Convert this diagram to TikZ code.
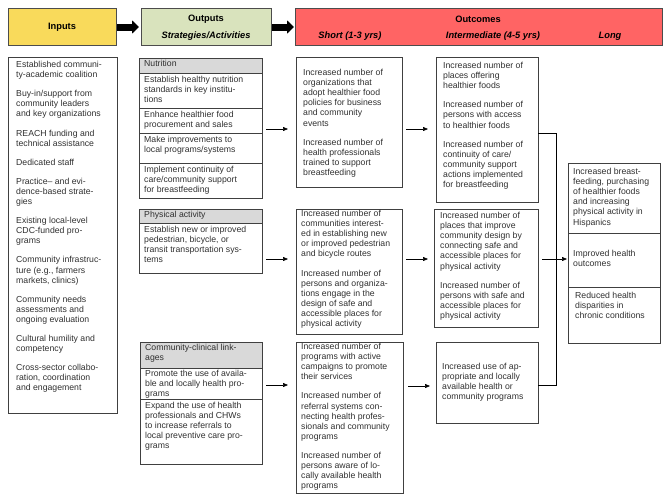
\documentclass[tikz,border=0pt]{standalone}
\usepackage{fontspec}
\setmainfont{Liberation Sans}
\usetikzlibrary{arrows.meta}
\definecolor{inyel}{HTML}{F9DA5B}
\definecolor{outgr}{HTML}{D9E3BD}
\definecolor{outred}{HTML}{FF6464}
\definecolor{hgray}{HTML}{D9D9D9}
\definecolor{tx}{HTML}{303030}
\begin{document}
\begin{tikzpicture}[x=1pt,y=-1pt,
  bx/.style={draw=black!75,line width=0.6pt},
  txt/.style={anchor=north west,inner sep=0pt,align=left,text=tx,font=\fontsize{8.7}{10.1}\selectfont},
  hd/.style={draw=black!70,line width=0.6pt},
  hf/.style={font=\fontsize{9.3}{11}\selectfont\bfseries},
  blk/.style={-{Triangle[length=7pt,width=13pt]},line width=7pt},
  arr/.style={-{Triangle[length=5pt,width=4pt]},line width=0.6pt},
  ln/.style={line width=0.6pt}]
\useasboundingbox (0,0) rectangle (669,498);
% header
\draw[hd,fill=inyel] (8,8) rectangle (116,45);
\node[hf] (hin) at (62,27) {Inputs};
\draw[hd,fill=outgr] (141,8) rectangle (271,45);
\node[hf] (hout) at (206,19) {Outputs};
\node[hf,font=\fontsize{9.3}{11}\selectfont\bfseries\itshape] (hstr) at (206,36) {Strategies/Activities};
\draw[hd,fill=outred] (295,8) rectangle (662,45);
\node[hf] (hoc) at (478,19) {Outcomes};
\node[hf,font=\fontsize{9.3}{11}\selectfont\bfseries\itshape] (hs) at (350,36) {Short (1-3 yrs)};
\node[hf,font=\fontsize{9.3}{11}\selectfont\bfseries\itshape] (hi) at (493,36) {Intermediate (4-5 yrs)};
\node[hf,font=\fontsize{9.3}{11}\selectfont\bfseries\itshape] (hl) at (610,36) {Long};
\coordinate (a1) at (117,27); \coordinate (a2) at (139,27);
\coordinate (a3) at (272,27); \coordinate (a4) at (294,27);
\draw[blk] (a1) -- (a2);
\draw[blk] (a3) -- (a4);
% inputs
\draw[bx] (8,57) rectangle (117,413);
\node[txt] (inp) at (16,61) {Established communi-\\ty-academic coalition\\[9pt]
Buy-in/support from\\community leaders\\and key organizations\\[9pt]
REACH funding and\\technical assistance\\[9pt]
Dedicated staff\\[9pt]
Practice-- and evi-\\dence-based strate-\\gies\\[9pt]
Existing local-level\\CDC-funded pro-\\grams\\[9pt]
Community infrastruc-\\ture (e.g., farmers\\markets, clinics)\\[9pt]
Community needs\\assessments and\\ongoing evaluation\\[9pt]
Cultural humility and\\competency\\[9pt]
Cross-sector collabo-\\ration, coordination\\and engagement};
% nutrition
\draw[bx,fill=hgray] (139,58) rectangle (262,73);
\draw[bx] (139,73) rectangle (262,198);
\draw[bx] (139,108) -- (262,108);
\draw[bx] (139,133) -- (262,133);
\draw[bx] (139,163) -- (262,163);
\node[txt] (n0) at (144,60) {Nutrition};
\node[txt] (n1) at (144,76) {Establish healthy nutrition\\standards in key institu-\\tions};
\node[txt] (n2) at (144,111) {Enhance healthier food\\procurement and sales};
\node[txt] (n3) at (144,136) {Make improvements to\\local programs/systems};
\node[txt] (n4) at (144,166) {Implement continuity of\\care/community support\\for breastfeeding};
% physical activity
\draw[bx,fill=hgray] (139,209) rectangle (262,223);
\draw[bx] (139,223) rectangle (262,273);
\node[txt] (p0) at (144,211) {Physical activity};
\node[txt] (p1) at (144,226) {Establish new or improved\\pedestrian, bicycle, or\\transit transportation sys-\\tems};
% community clinical
\draw[bx,fill=hgray] (140,342) rectangle (262,368);
\draw[bx] (140,368) rectangle (262,464);
\draw[bx] (140,399) -- (262,399);
\node[txt] (c0) at (145,344) {Community-clinical link-\\ages};
\node[txt] (c1) at (145,370) {Promote the use of availa-\\ble and locally health pro-\\grams};
\node[txt] (c2) at (145,402) {Expand the use of health\\professionals and CHWs\\to increase referrals to\\local preventive care pro-\\grams};
% short
\draw[bx] (296,57) rectangle (402,187);
\node[txt] (s1) at (303,69) {Increased number of\\organizations that\\adopt healthier food\\policies for business\\and community\\events\\[9pt]
Increased number of\\health professionals\\trained to support\\breastfeeding};
\draw[bx] (296,209) rectangle (402,334);
\node[txt] (s2) at (301,210) {Increased number of\\communities interest-\\ed in establishing new\\or improved pedestrian\\and bicycle routes\\[9pt]
Increased number of\\persons and organiza-\\tions engage in the\\design of safe and\\accessible places for\\physical activity};
\draw[bx] (296,342) rectangle (403,493);
\node[txt] (s3) at (301,343) {Increased number of\\programs with active\\campaigns to promote\\their services\\[9pt]
Increased number of\\referral systems con-\\necting health profes-\\sionals and community\\programs\\[9pt]
Increased number of\\persons aware of lo-\\cally available health\\programs};
% intermediate
\draw[bx] (436,57) rectangle (538,202);
\node[txt] (i1) at (443,62) {Increased number of\\places offering\\healthier foods\\[9pt]
Increased number of\\persons with access\\to healthier foods\\[9pt]
Increased number of\\continuity of care/\\community support\\actions implemented\\for breastfeeding};
\draw[bx] (434,209) rectangle (538,327);
\node[txt] (i2) at (440,212) {Increased number of\\places that improve\\community design by\\connecting safe and\\accessible places for\\physical activity\\[9pt]
Increased number of\\persons with safe and\\accessible places for\\physical activity};
\draw[bx] (436,342) rectangle (538,423);
\node[txt] (i3) at (442,363) {Increased use of ap-\\propriate and locally\\available health or\\community programs};
% long
\draw[bx] (568,163) rectangle (660,343);
\draw[bx] (568,233) -- (660,233);
\draw[bx] (568,287) -- (660,287);
\node[txt] (l1) at (573,168) {Increased breast-\\feeding, purchasing\\of healthier foods\\and increasing\\physical activity in\\Hispanics};
\node[txt] (l2) at (573,250) {Improved health\\outcomes};
\node[txt] (l3) at (575,292) {Reduced health\\disparities in\\chronic conditions};
% arrows
\coordinate (g1) at (266,129); \coordinate (g1e) at (288,129);
\coordinate (g2) at (266,259); \coordinate (g2e) at (288,259);
\coordinate (g3) at (266,385); \coordinate (g3e) at (288,385);
\draw[arr] (g1) -- (g1e); \draw[arr] (g2) -- (g2e); \draw[arr] (g3) -- (g3e);
\coordinate (h1) at (406,129); \coordinate (h1e) at (428,129);
\coordinate (h2) at (406,259); \coordinate (h2e) at (428,259);
\coordinate (h3) at (408,386); \coordinate (h3e) at (430,386);
\draw[arr] (h1) -- (h1e); \draw[arr] (h2) -- (h2e); \draw[arr] (h3) -- (h3e);
\coordinate (j1) at (538,133); \coordinate (j2) at (556,133);
\coordinate (j3) at (556,385); \coordinate (j4) at (538,385);
\draw[ln] (j1) -- (j2) -- (j3) -- (j4);
\coordinate (k1) at (542,259); \coordinate (k2) at (567,259);
\draw[arr] (k1) -- (k2);
\end{tikzpicture}
\end{document}
